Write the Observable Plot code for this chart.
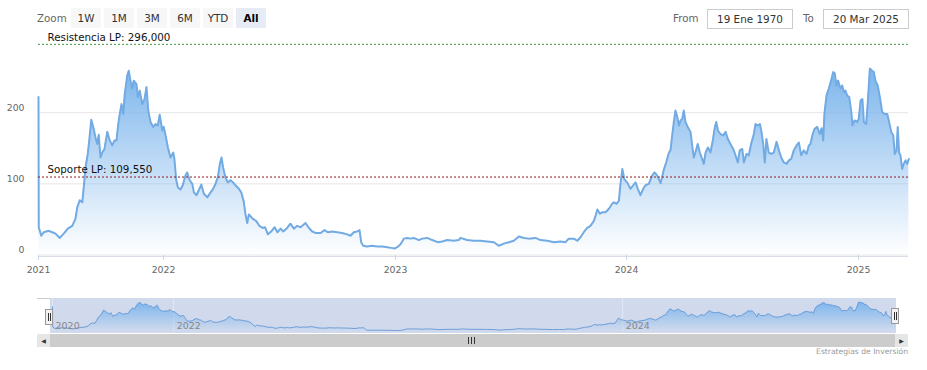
<!DOCTYPE html>
<html><head><meta charset="utf-8">
<script src="https://cdn.jsdelivr.net/npm/d3@7"></script>
<script src="https://cdn.jsdelivr.net/npm/@observablehq/plot@0.6"></script>
<style>
body{margin:0;width:927px;height:370px;position:relative;overflow:hidden;background:#fff;font-family:"DejaVu Sans",sans-serif}
.lbl{position:absolute;color:#666;font-size:10.3px;line-height:20px;top:8px}
.btn{position:absolute;top:8px;width:30px;height:20px;line-height:20px;background:#f7f7f7;color:#333;font-size:10.4px;text-align:center}
.btn.sel{background:#e6ebf5;color:#000;font-weight:bold}
.inp{position:absolute;top:9px;height:18px;line-height:18px;border:1px solid #cccccc;color:#333;font-size:10.4px;text-align:center;background:#fff}
#main{position:absolute;left:0;top:0}
#nav{position:absolute;left:0;top:290px;z-index:2}
#mask{position:absolute;left:50px;top:298px;width:846px;height:35px;background:rgba(102,133,194,0.3);z-index:1}
.handle{position:absolute;width:6px;height:14px;background:#f2f2f2;border:1px solid #999;z-index:3}
.handle:before,.handle:after{content:"";position:absolute;top:3px;width:1px;height:8px;background:#333}
.handle:before{left:1.5px}.handle:after{left:3.5px}
.sbtn{position:absolute;top:334px;width:13px;height:13px;background:#e6e6e6;z-index:3;color:#333;font-size:6px;line-height:13px;text-align:center}
#track{position:absolute;left:50px;top:334px;width:846px;height:13px;background:#cccccc;z-index:2}
#grip{position:absolute;left:418px;top:3px;width:7px;height:7px}
#grip i{position:absolute;top:0;width:1px;height:7px;background:#333}
#outl{position:absolute;left:37px;top:298px;width:13px;height:1px;background:#cccccc}
#credits{position:absolute;right:19px;top:346px;font-size:7.6px;color:#999;line-height:12px}
</style></head><body>
<div class="lbl" style="left:37px">Zoom</div>
<div class="btn" style="left:71px">1W</div>
<div class="btn" style="left:104px">1M</div>
<div class="btn" style="left:137px">3M</div>
<div class="btn" style="left:170px">6M</div>
<div class="btn" style="left:203px">YTD</div>
<div class="btn sel" style="left:236px">All</div>
<div class="lbl" style="left:673px">From</div>
<div class="inp" style="left:707px;width:84px">19 Ene 1970</div>
<div class="lbl" style="left:803px">To</div>
<div class="inp" style="left:823px;width:84px">20 Mar 2025</div>
<div id="main"></div>
<div id="mask"></div>
<div id="outl"></div>
<div id="nav"></div>
<div class="handle" style="left:45px;top:309px"></div>
<div class="handle" style="left:891px;top:308px"></div>
<div class="sbtn" style="left:37px">&#9664;</div>
<div id="track"><div id="grip"><i style="left:0"></i><i style="left:3px"></i><i style="left:6px"></i></div></div>
<div class="sbtn" style="left:895px">&#9654;</div>
<div id="credits">Estrategias de Inversión</div>
<script>
// ---- data (decimal year, price) ----
const decimalYear = [
2021.000,2021.002,2021.022,2021.042,2021.082,2021.110,2021.136,2021.170,2021.202,2021.234,
2021.270,2021.296,2021.310,2021.330,2021.350,2021.362,2021.376,2021.394,2021.406,2021.422,
2021.438,2021.456,2021.470,2021.482,2021.496,2021.510,2021.528,2021.550,2021.570,2021.590,
2021.608,2021.624,2021.638,2021.650,2021.664,2021.678,2021.690,2021.710,2021.722,2021.736,
2021.750,2021.762,2021.784,2021.794,2021.810,2021.830,2021.848,2021.864,2021.878,2021.896,
2021.918,2021.936,2021.954,2021.970,2021.990,
2022.001,2022.009,2022.019,2022.030,2022.042,2022.047,2022.055,2022.062,2022.073,2022.083,
2022.095,2022.102,2022.113,2022.124,2022.131,2022.142,2022.152,2022.163,2022.174,2022.189,
2022.203,2022.214,2022.224,2022.234,2022.243,2022.250,2022.257,2022.267,2022.277,2022.289,
2022.300,2022.310,2022.325,2022.335,2022.346,2022.353,2022.361,2022.368,2022.384,2022.399,
2022.413,2022.428,2022.438,2022.450,2022.464,2022.479,2022.491,2022.505,2022.516,2022.533,
2022.547,2022.562,2022.576,2022.591,2022.612,2022.627,2022.641,2022.655,2022.677,2022.694,
2022.708,2022.727,2022.749,2022.770,2022.792,2022.806,2022.820,2022.835,2022.845,2022.852,
2022.861,2022.878,2022.899,2022.921,2022.943,2022.964,2022.981,2022.996,
2023.007,2023.022,2023.036,2023.051,2023.065,2023.079,2023.101,2023.116,2023.137,2023.159,
2023.183,2023.202,2023.224,2023.252,2023.274,2023.281,2023.310,2023.339,2023.368,2023.397,
2023.426,2023.447,2023.469,2023.491,2023.512,2023.534,2023.556,2023.577,2023.606,2023.628,
2023.657,2023.686,2023.714,2023.736,2023.750,2023.772,2023.787,2023.801,2023.815,2023.830,
2023.844,2023.859,2023.866,2023.874,2023.885,2023.895,2023.909,2023.924,2023.938,2023.945,
2023.957,2023.967,2023.974,2023.982,2023.991,
2024.003,2024.017,2024.029,2024.039,2024.049,2024.060,2024.072,2024.082,2024.096,2024.111,
2024.121,2024.132,2024.147,2024.161,2024.172,2024.182,2024.190,2024.197,2024.204,2024.211,
2024.219,2024.226,2024.233,2024.240,2024.247,2024.254,2024.264,2024.276,2024.283,2024.290,
2024.297,2024.307,2024.316,2024.326,2024.333,2024.341,2024.351,2024.362,2024.372,2024.381,
2024.387,2024.394,2024.405,2024.417,2024.427,2024.437,2024.448,2024.460,2024.470,2024.480,
2024.488,2024.499,2024.506,2024.517,2024.527,2024.537,2024.549,2024.556,2024.566,2024.575,
2024.582,2024.589,2024.596,2024.603,2024.613,2024.624,2024.635,2024.647,2024.657,2024.667,
2024.678,2024.690,2024.700,2024.710,2024.721,2024.733,2024.743,2024.753,2024.764,2024.776,
2024.786,2024.793,2024.801,2024.810,2024.822,2024.833,2024.841,2024.848,2024.853,2024.862,
2024.872,2024.882,2024.891,2024.898,2024.905,2024.912,2024.922,2024.930,2024.937,2024.944,
2024.951,2024.960,2024.969,2024.974,2024.983,2024.994,
2025.001,2025.009,2025.017,2025.023,2025.033,2025.040,2025.049,2025.059,2025.066,2025.073,
2025.083,2025.092,2025.102,2025.112,2025.124,2025.132,2025.141,2025.150,2025.156,2025.164,
2025.169,2025.175,2025.181,2025.188,2025.195,2025.203,2025.210,2025.217
];
const price = [
222,39,27,32,34,32,30,24,30,37,
41,51,67,77,74,95,123,142,161,190,
180,165,156,169,137,144,149,173,161,154,
161,161,184,198,212,198,226,252,259,245,
234,245,240,222,231,212,219,236,203,187,
180,184,182,197,175,
180,168,151,137,144,135,105,95,92,98,
112,116,105,100,88,84,91,99,86,81,
88,93,100,109,128,137,123,109,102,105,
102,98,93,88,75,58,45,57,51,48,
41,38,39,29,33,39,32,37,33,38,
44,37,41,39,45,38,33,31,31,35,
32,33,32,31,29,27,32,33,35,18,
13,12,13,12,12,11,10,9,
11,15,23,24,23,24,21,23,24,21,
18,19,21,20,21,24,21,20,20,19,
18,13,16,18,20,26,24,23,24,21,
20,18,19,18,23,23,20,25,32,38,
41,48,55,64,58,60,60,65,72,74,
72,76,100,121,106,
102,93,98,102,93,84,93,98,100,112,
116,112,101,120,131,143,148,168,187,203,
194,182,189,191,203,187,180,173,154,137,
144,156,144,135,128,144,151,144,161,180,
187,175,170,168,173,163,156,149,140,130,
147,149,130,142,140,156,170,184,182,184,
173,156,130,163,144,142,144,159,147,137,
130,128,133,135,147,154,158,140,147,142,
154,156,168,177,180,170,178,161,198,224,
234,245,257,255,238,245,234,238,229,231,
224,222,201,182,189,187,
191,217,219,187,184,215,262,259,257,245,
238,222,201,198,198,187,173,168,142,147,
180,144,140,121,128,133,128,135
];
const data = decimalYear.map((t, i) => ({t, v: price[i]}));

const xYears = [2021, 2022, 2023, 2024, 2025];
const xTickLabels = ["2021", "2022", "2023", "2024", "2025"];
const yTicks = [0, 100, 200];
const levels = [
  {value: 296.0, label: "Resistencia LP: 296,000", color: "#3f9a3f"},
  {value: 109.55, label: "Soporte LP: 109,550", color: "#8b1a1a"}
];
const navTicks = [2021, 2022, 2024];
const navTickLabels = ["2020", "2022", "2024"];

// ---- layout ----
const mainRange = [38, 163, 395, 626, 858];
const navRange = mainRange.map(p => 52 + (p - 38) * 0.9698);

function gradient(id, color) {
  return () => {
    const ns = "http://www.w3.org/2000/svg";
    const defs = document.createElementNS(ns, "defs");
    const g = document.createElementNS(ns, "linearGradient");
    g.setAttribute("id", id);
    g.setAttribute("x1", "0"); g.setAttribute("y1", "0");
    g.setAttribute("x2", "0"); g.setAttribute("y2", "1");
    [[0, 1], [1, 0]].forEach(([o, a]) => {
      const s = document.createElementNS(ns, "stop");
      s.setAttribute("offset", o);
      s.setAttribute("stop-color", color);
      s.setAttribute("stop-opacity", a);
      g.appendChild(s);
    });
    defs.appendChild(g);
    return defs;
  };
}

const main = Plot.plot({
  width: 927, height: 290,
  marginLeft: 38, marginRight: 19, marginTop: 41, marginBottom: 35,
  x: {type: "linear", domain: xYears, range: mainRange, label: null},
  y: {domain: [0, 300], range: [254.5, 41], label: null},
  style: {fontFamily: "DejaVu Sans, sans-serif", fontSize: "9.3px", color: "#666", background: "transparent"},
  marks: [
    gradient("mainGrad", "#7cb5ec"),
    Plot.gridY(yTicks, {stroke: "#e6e6e6", strokeOpacity: 1}),
    Plot.areaY(data, {x: "t", y: "v", fill: "url(#mainGrad)"}),
    Plot.lineY(data, {x: "t", y: "v", stroke: "#72abe4", strokeWidth: 2}),
    Plot.ruleY([0], {stroke: "#d8dde6", dy: 1.5}),
    Plot.axisX(xYears, {tickFormat: d => xTickLabels[xYears.indexOf(d)], tickSize: 5, tickPadding: 6, stroke: "#ccd6eb", fill: "#666", label: null}),
    Plot.axisY(yTicks, {tickSize: 0, tickPadding: 14, dy: -4.5, tickFormat: d => String(d), fill: "#666", label: null}),
    Plot.ruleY(levels, {y: "value", stroke: "color", strokeDasharray: "2,2"}),
    Plot.text(levels, {y: "value", text: "label", frameAnchor: "left", textAnchor: "start", dx: 9, dy: -7, fill: "#111", fontSize: 10.3})
  ]
});
document.getElementById("main").appendChild(main);

const nav = Plot.plot({
  width: 927, height: 45,
  marginLeft: 52, marginRight: 31, marginTop: 8, marginBottom: 2,
  x: {type: "linear", domain: xYears, range: navRange, axis: null},
  y: {domain: [0, 295], range: [41.1, 8], axis: null},
  style: {fontFamily: "DejaVu Sans, sans-serif", fontSize: "9.5px", color: "#888", background: "transparent"},
  marks: [
    gradient("navGrad", "#7cb5ec"),
    Plot.ruleX(navTicks, {y1: 0, y2: 295, stroke: "#ffffff", strokeOpacity: 0.35}),
    Plot.areaY(data, {x: "t", y: "v", fill: "url(#navGrad)"}),
    Plot.lineY(data, {x: "t", y: "v", stroke: "#6f9fd8", strokeWidth: 1}),
    Plot.text(navTicks, {x: d => d, y: 0, text: (d, i) => navTickLabels[i], textAnchor: "start", dx: 3, dy: -6, fill: "#888"})
  ]
});
document.getElementById("nav").appendChild(nav);
</script>
</body></html>
